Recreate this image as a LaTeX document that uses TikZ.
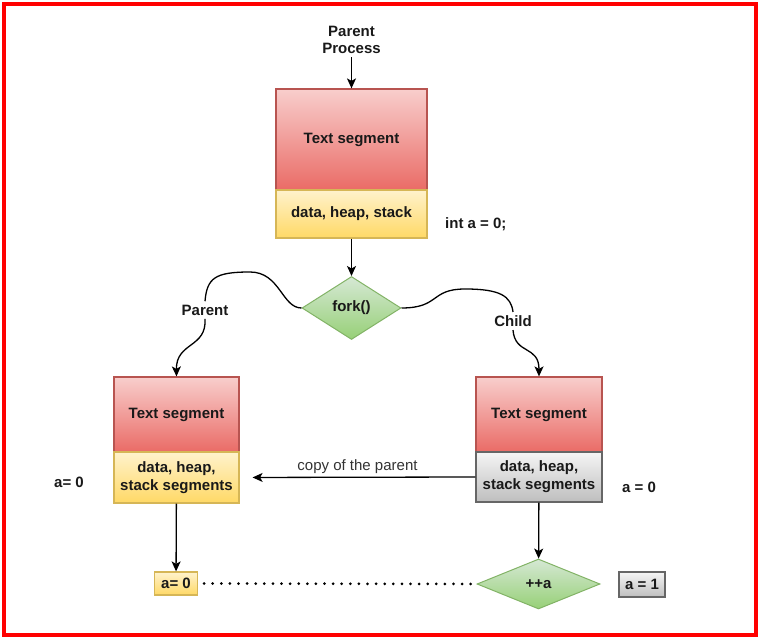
\documentclass[tikz,border=0pt]{standalone}
\usepackage{fontspec}
\setmainfont{Liberation Sans}
\usetikzlibrary{positioning, arrows.meta, shapes.geometric}

\definecolor{redtop}{RGB}{248,206,204}
\definecolor{redbot}{RGB}{234,107,102}
\definecolor{redline}{RGB}{184,84,80}
\definecolor{yeltop}{RGB}{255,242,204}
\definecolor{yelbot}{RGB}{255,217,102}
\definecolor{yelline}{RGB}{214,182,86}
\definecolor{graytop}{RGB}{245,245,245}
\definecolor{graybot}{RGB}{190,190,190}
\definecolor{grayline}{RGB}{102,102,102}
\definecolor{grntop}{RGB}{213,232,212}
\definecolor{grnbot}{RGB}{151,208,119}
\definecolor{grnline}{RGB}{130,179,102}

\begin{document}
\begin{tikzpicture}[x=1pt, y=-1pt,
  every node/.style={font=\fontsize{15}{18}\selectfont\bfseries, text=black!90},
  seg/.style={draw, line width=1.2pt, inner sep=0pt, align=center},
  textseg/.style={seg, draw=redline, top color=redtop, bottom color=redbot},
  dataseg/.style={seg, draw=yelline, top color=yeltop, bottom color=yelbot},
  copyseg/.style={seg, draw=grayline, top color=graytop, bottom color=graybot},
  decide/.style={diamond, draw=grnline, line width=1pt, top color=grntop, bottom color=grnbot, inner sep=0pt, aspect=2},
  flow/.style={line width=1.3pt, -{Stealth[length=10pt, width=9pt, inset=2.5pt]}},
  curve/.style={line width=1.3pt}]
\useasboundingbox (0,0) rectangle (761,639);

% parent process
\node[align=center, font=\fontsize{15}{16.5}\selectfont\bfseries] (ptitle) at (351.5,40) {Parent\\Process};
\node[textseg, minimum width=151, minimum height=101] (ptext) at (351.5,139.5) {Text segment};
\node[dataseg, minimum width=151, minimum height=48] (pdata) at (351.5,214) {data, heap, stack};
\node[anchor=west, inner sep=0pt] (pint) at (445,224) {int a = 0;};
\node[decide, minimum width=99, minimum height=63] (fork) at (351.5,308) {fork()};

% branch labels
\node (plbl) at (205,310) {Parent};
\node (clbl) at (513,321) {Child};

% parent side
\node[textseg, minimum width=125, minimum height=75] (ltext) at (176.5,414.5) {Text segment};
\node[dataseg, minimum width=125, minimum height=51] (ldata) at (176.5,477.5) {data, heap,\\stack segments};
\node (lval) at (69,482) {a= 0};
\node[dataseg, minimum width=43, minimum height=23] (lres) at (176,583.5) {a= 0};

% child side
\node[textseg, minimum width=126, minimum height=75] (rtext) at (539,414.5) {Text segment};
\node[copyseg, minimum width=126, minimum height=50] (rdata) at (539,477) {data, heap,\\stack segments};
\node (rval) at (639,487) {a = 0};
\node[decide, minimum width=123, minimum height=50] (inc) at (538.5,584) {++a};
\node[copyseg, minimum width=46, minimum height=25] (rres) at (642,584.5) {a = 1};

% connectors
\draw[flow] (ptitle) -- (ptext);
\draw[flow] (pdata) -- (fork);
\draw[curve] (fork.west) .. controls (282,308) and (280,272) .. (250,272)
  .. controls (215,272) and (207,278) .. (plbl.north);
\draw[flow] (plbl.south) .. controls (207,348) and (176,342) .. (ltext.north);
\draw[curve] (fork.east) .. controls (440,308) and (430,289) .. (465,289)
  .. controls (500,289) and (511,296) .. (clbl.north);
\draw[flow] (clbl.south) .. controls (515,355) and (539,345) .. (rtext.north);
\draw[flow, shorten >=13pt] (rdata.west) -- node[above=0pt, font=\fontsize{15}{18}\selectfont, text=black!80] (cplbl) {copy of the parent} (ldata.east);
\draw[flow] (ldata) -- (lres);
\draw[flow] (rdata) -- (inc);
\draw[line width=3pt, line cap=round, dash pattern=on 0pt off 8.6pt, shorten <=6pt] (lres.east) -- (inc.west);

% frame
\draw[red, line width=4pt] (4,4) rectangle (755.5,635);
\end{tikzpicture}
\end{document}
